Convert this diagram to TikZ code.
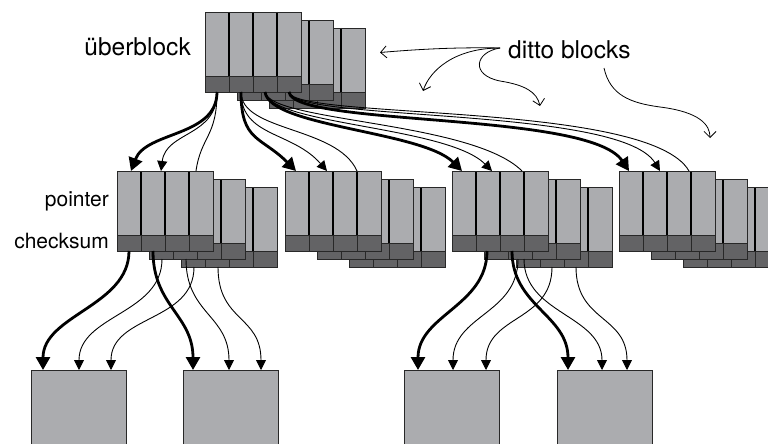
\documentclass[tikz,border=0pt]{standalone}
\usepackage{fontspec}
\setmainfont{TeX Gyre Heros}
\usetikzlibrary{arrows.meta}
\definecolor{lite}{RGB}{171,172,175}
\definecolor{dark}{RGB}{99,99,101}
\definecolor{edge}{RGB}{40,40,40}
\newcommand{\zblk}[2]{%
  \fill[lite] (#1,#2) rectangle ++(96,64);
  \fill[dark] (#1,#2+64) rectangle ++(96,16);
  \foreach \k in {24,48,72} {
    \draw[line width=1.4pt, black] (#1+\k,#2) -- ++(0,64);
    \draw[line width=0.7pt, edge] (#1+\k,#2+64) -- ++(0,16);
  }
  \draw[line width=0.8pt, edge] (#1,#2+64) -- ++(96,0);
  \draw[line width=0.9pt, edge] (#1,#2) rectangle ++(96,80);
}
\newcommand{\zstack}[2]{\zblk{#1+64}{#2+16}\zblk{#1+32}{#2+8}\zblk{#1}{#2}}
\tikzset{
  thk/.style={line width=2.8pt, -{Triangle[length=13pt,width=14pt]}},
  thn/.style={line width=0.9pt, -{Triangle[length=10pt,width=10pt]}},
  thnx/.style={line width=0.9pt},
  ditto/.style={line width=0.8pt, -{Straight Barb[length=6pt,width=12pt]}},
  leaf/.style={draw=edge, fill=lite, line width=0.9pt, minimum width=95pt,
    minimum height=100pt, anchor=north west, inner sep=0pt, outer sep=0pt},
  lbl/.style={font=\fontsize{24.5}{28}\selectfont, inner sep=0pt},
  slbl/.style={font=\fontsize{21}{25}\selectfont, inner sep=0pt}
}
\begin{document}
\begin{tikzpicture}[x=1pt,y=-1pt]
\useasboundingbox (0,0) rectangle (768,444);
\clip (0,0) rectangle (768,444);
\fill[white] (0,0) rectangle (768,444);

% blocks
\zstack{205}{12}
\zstack{117}{171}
\zstack{285}{171}
\zstack{452}{171}
\zstack{619}{171}

% leaves
\node[leaf] (f1) at (31,370) {};
\node[leaf] (f2) at (183,370) {};
\node[leaf] (f3) at (404,370) {};
\node[leaf] (f4) at (557,370) {};

% labels
\node[lbl, anchor=east] (ub) at (191,47) {überblock};
\node[lbl, anchor=west] (dt) at (508,49.5) {ditto blocks};
\node[slbl, anchor=east] (pt) at (109,201) {pointer};
\node[slbl, anchor=east] (cs) at (109,241) {checksum};

% coordinates: uberblock sources
\coordinate (u1) at (217,92);
\coordinate (u2) at (241,92);
\coordinate (u3) at (265,92);
\coordinate (u4) at (289,92);
% stack tops
\coordinate (s1a) at (131,171); \coordinate (s1b) at (161,171); \coordinate (s1c) at (196,171);
\coordinate (s2a) at (296,171); \coordinate (s2b) at (327,171); \coordinate (s2c) at (357,171);
\coordinate (s3a) at (462,171); \coordinate (s3b) at (492,171); \coordinate (s3c) at (522,171);
\coordinate (s4a) at (629,171); \coordinate (s4b) at (660,171); \coordinate (s4c) at (689,171);
% stack 1 sources
\coordinate (p1) at (129,251); \coordinate (p2) at (153,251);
\coordinate (p3) at (162,259); \coordinate (p4) at (186,259);
\coordinate (p5) at (194,267); \coordinate (p6) at (218,267);
% stack 3 sources
\coordinate (q1) at (487,251); \coordinate (q2) at (512,251);
\coordinate (q3) at (518,259); \coordinate (q4) at (524,259);
\coordinate (q5) at (552,267); \coordinate (q6) at (576,267);
% leaf tips
\coordinate (t11) at (43,370); \coordinate (t12) at (79,370); \coordinate (t13) at (111,370);
\coordinate (t21) at (193,370); \coordinate (t22) at (229,370); \coordinate (t23) at (261,370);
\coordinate (t31) at (418,370); \coordinate (t32) at (453,370); \coordinate (t33) at (486,370);
\coordinate (t41) at (568,370); \coordinate (t42) at (602,370); \coordinate (t43) at (627,370);
% ditto arrows
\coordinate (o1) at (500,48); \coordinate (o2) at (604,68);
\coordinate (m3) at (500,81); \coordinate (m4) at (660,107);
\coordinate (d1) at (380,52.5); \coordinate (d2) at (423,91);
\coordinate (d3) at (540,106); \coordinate (d4) at (710,138);

% uberblock -> stacks
\draw[thk]  (u1) .. controls +(0,45) and +(15,-40) .. (s1a);
\draw[thn]  (u1) .. controls +(0,45) and +(5,-40) .. (s1b);
\draw[thnx] (u1) .. controls +(0,45) and +(5,-35) .. (s1c);

\draw[thk]  (u2) .. controls +(0,50) and +(-35,-35) .. (s2a);
\draw[thn]  (u2) .. controls +(0,45) and +(-35,-40) .. (s2b);
\draw[thnx] (u2) .. controls +(0,40) and +(-20,-45) .. (s2c);

\draw[thk]  (u3) .. controls +(5,35) and +(-40,-40) .. (s3a);
\draw[thn]  (u3) .. controls +(5,33) and +(-45,-45) .. (s3b);
\draw[thnx] (u3) .. controls +(5,30) and +(-50,-50) .. (s3c);

\draw[thk]  (u4) .. controls +(5,35) and +(-40,-60) .. (s4a);
\draw[thn]  (u4) .. controls +(5,30) and +(-40,-65) .. (s4b);
\draw[thnx] (u4) .. controls +(5,28) and +(-40,-70) .. (s4c);

% stack 1 -> leaves
\draw[thk] (p1) .. controls +(0,55) and +(0,-55) .. (t11);
\draw[thk] (p2) .. controls +(0,55) and +(0,-55) .. (t21);
\draw[thn] (p3) .. controls +(0,55) and +(0,-55) .. (t12);
\draw[thn] (p4) .. controls +(0,55) and +(0,-55) .. (t22);
\draw[thn] (p5) .. controls +(0,55) and +(0,-55) .. (t13);
\draw[thn] (p6) .. controls +(0,55) and +(0,-55) .. (t23);

% stack 3 -> leaves
\draw[thk] (q1) .. controls +(0,55) and +(0,-55) .. (t31);
\draw[thk] (q2) .. controls +(0,55) and +(0,-55) .. (t41);
\draw[thn] (q3) .. controls +(0,55) and +(0,-55) .. (t32);
\draw[thn] (q4) .. controls +(0,55) and +(0,-55) .. (t42);
\draw[thn] (q5) .. controls +(0,55) and +(0,-55) .. (t33);
\draw[thn] (q6) .. controls +(0,55) and +(0,-55) .. (t43);

% ditto annotations
\draw[ditto] (o1) .. controls (450,47) and (410,50) .. (d1);
\draw[ditto] (o1) .. controls (455,48) and (430,70) .. (d2);
\draw[ditto] (o1) .. controls (475,52) and (470,75) .. (m3) .. controls (525,85) and (537,92) .. (d3);
\draw[ditto] (o2) .. controls (610,95) and (630,103) .. (m4) .. controls (700,112) and (710,125) .. (d4);
\end{tikzpicture}
\end{document}
